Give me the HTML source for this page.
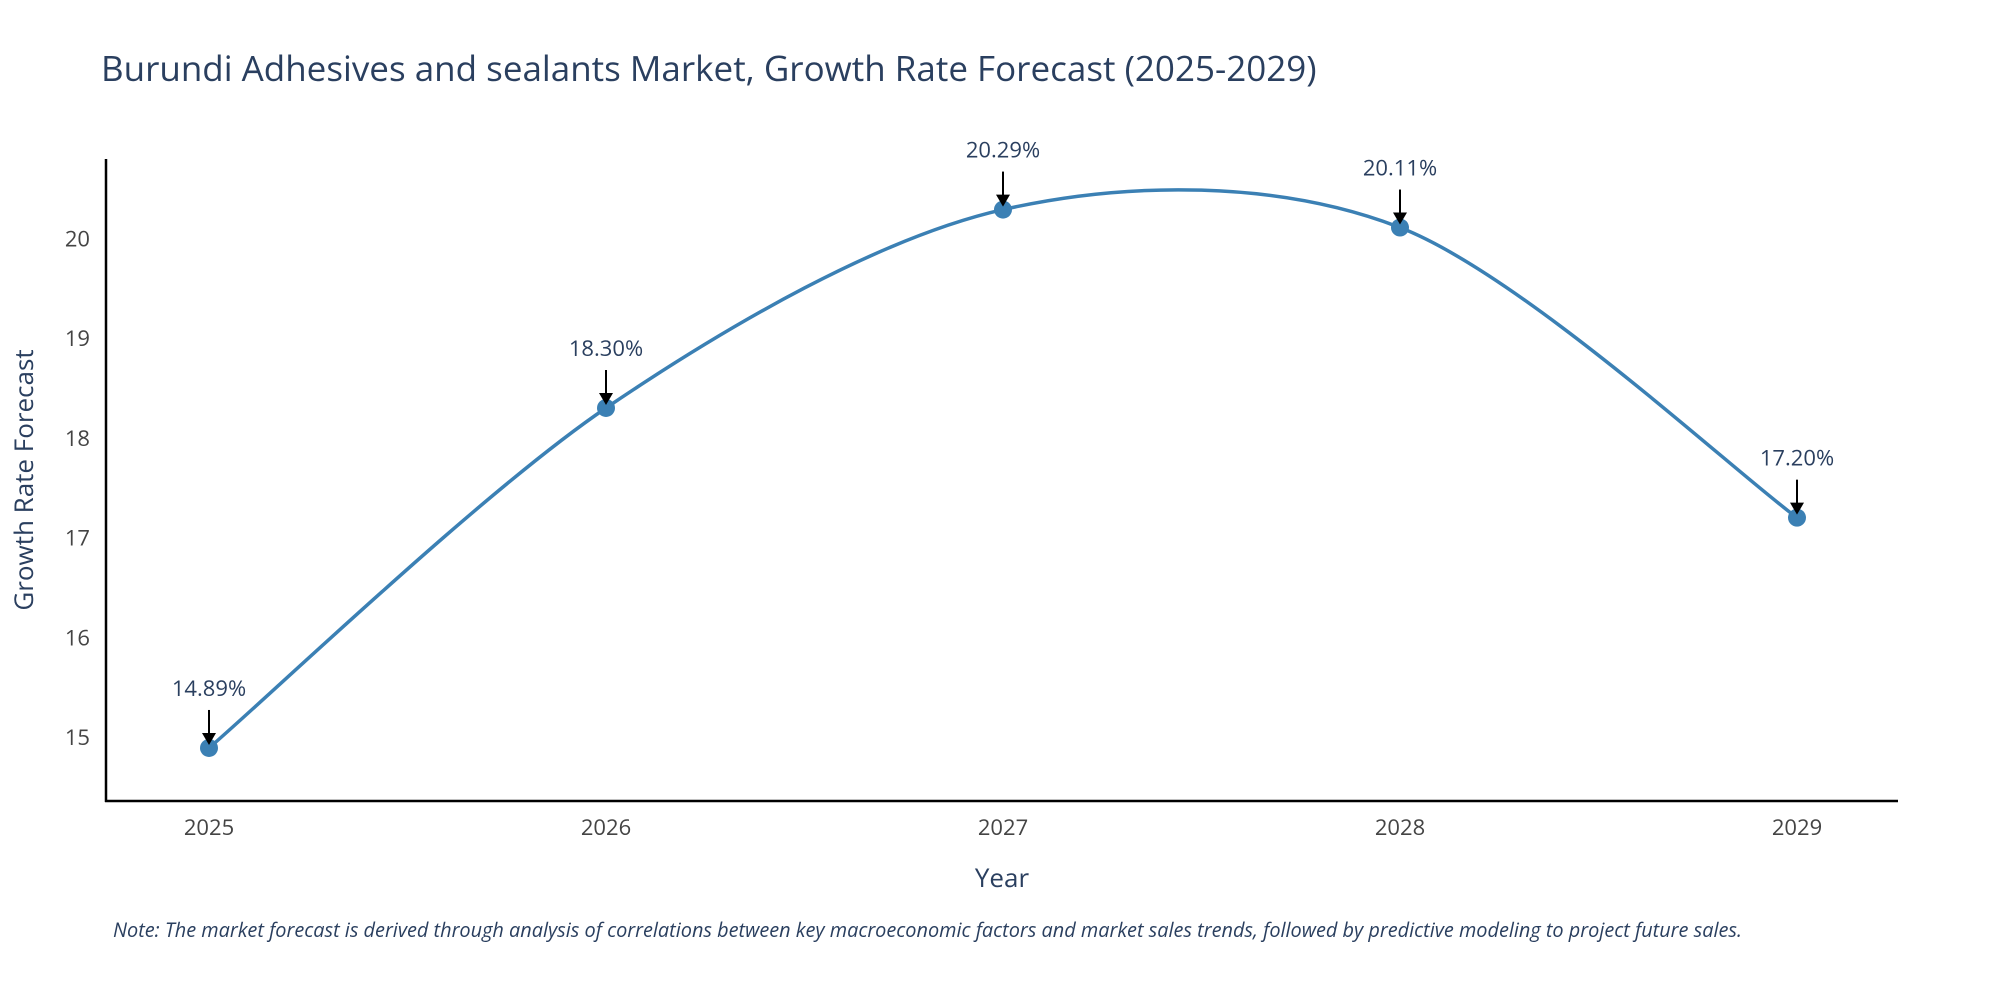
<!DOCTYPE html>
<html><head><meta charset="utf-8"><style>
body{margin:0;background:#fff;}
svg{display:block;font-family:"Open Sans","Liberation Sans",sans-serif;}
</style></head><body>
<svg id="chart" width="2000" height="1000" viewBox="0 0 2000 1000">
<text x="101" y="81" font-size="35" fill="#2a3f5f">Burundi Adhesives and sealants Market, Growth Rate Forecast (2025-2029)</text>
<g id="yticks"></g>
<g id="xticks"></g>
<line x1="106" y1="159" x2="106" y2="802" stroke="#000" stroke-width="2.5"/>
<line x1="105" y1="801" x2="1898" y2="801" stroke="#000" stroke-width="2.5"/>
<path id="line" fill="none" stroke="#3b80b4" stroke-width="3.5"/>
<g id="points"></g>
<g id="annots"></g>
<text x="1002" y="887" font-size="26" fill="#2a3f5f" text-anchor="middle">Year</text>
<text transform="translate(33,480) rotate(-90)" font-size="26" fill="#2a3f5f" text-anchor="middle">Growth Rate Forecast</text>
<text x="113" y="937" font-size="19.9" font-style="italic" fill="#2a3f5f">Note: The market forecast is derived through analysis of correlations between key macroeconomic factors and market sales trends, followed by predictive modeling to project future sales.</text>
</svg>
<script>
const years = [2025, 2026, 2027, 2028, 2029];
const values = [14.89, 18.30, 20.29, 20.11, 17.20];
const labels = ["14.89%", "18.30%", "20.29%", "20.11%", "17.20%"];
const yTickValues = [15, 16, 17, 18, 19, 20];
const NS = "http://www.w3.org/2000/svg";
function xs(v){return 209 + (v - 2025) * 397;}
function ys(v){return 737 - (v - 15) * 99.7;}
function mk(tag, attrs, parent){const e=document.createElementNS(NS,tag);for(const k in attrs)e.setAttribute(k,attrs[k]);parent.appendChild(e);return e;}
const yt=document.getElementById('yticks');
yTickValues.forEach(v=>{
  const t=mk('text',{x:90,y:ys(v)+8,'font-size':22,fill:'#444','text-anchor':'end'},yt);
  
  
  t.textContent=v;
});
const xt=document.getElementById('xticks');
years.forEach(v=>{
  const t=mk('text',{x:xs(v),y:835,'font-size':22,fill:'#444','text-anchor':'middle'},xt);
  
  
  t.textContent=v;
});
const P=years.map((y,i)=>[xs(y),ys(values[i])]);
let d='M'+P[0][0]+','+P[0][1];
const k=0.155;
for(let i=0;i<P.length-1;i++){
  const p0=P[Math.max(i-1,0)],p1=P[i],p2=P[i+1],p3=P[Math.min(i+2,P.length-1)];
  const c1=[p1[0]+(p2[0]-p0[0])*k,p1[1]+(p2[1]-p0[1])*k];
  const c2=[p2[0]-(p3[0]-p1[0])*k,p2[1]-(p3[1]-p1[1])*k];
  d+=` C${c1[0]},${c1[1]} ${c2[0]},${c2[1]} ${p2[0]},${p2[1]}`;
}
document.getElementById('line').setAttribute('d',d);
const pts=document.getElementById('points'),an=document.getElementById('annots');
P.forEach((p,i)=>{
  const c=mk('circle',{cx:p[0],cy:p[1],r:9,fill:'#3b80b4'},pts);
  
  
  const l=mk('line',{x1:p[0],y1:p[1]-38,x2:p[0],y2:p[1]-12,stroke:'#000','stroke-width':2},an);
  
  
  const h=mk('polygon',{points:`${p[0]-7},${p[1]-15} ${p[0]+7},${p[1]-15} ${p[0]},${p[1]-3}`,fill:'#000'},an);
  
  
  const t=mk('text',{x:p[0],y:p[1]-52,'font-size':22,fill:'#2a3f5f','text-anchor':'middle'},an);
  
  
  t.textContent=labels[i];
});
</script>
</body></html>
